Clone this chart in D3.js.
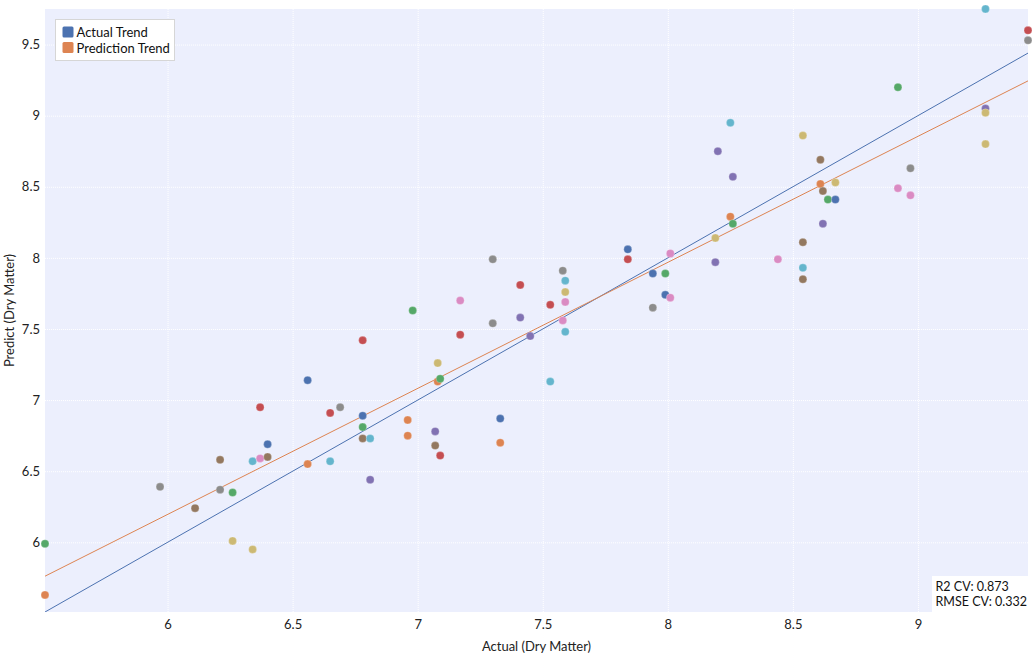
<!DOCTYPE html>
<html>
<head>
<meta charset="utf-8">
<script src="https://cdn.jsdelivr.net/npm/d3@7"></script>
<style>
  body { margin: 0; background: #fff; }
  text { font-family: Lato, "Open Sans", sans-serif; }
</style>
</head>
<body>
<div id="chart"></div>
<script>
// measured dry matter (x) and model prediction (y), one entry per sample
var actual = [
  5.51, 5.51, 5.97, 6.11, 6.21, 6.21, 6.26, 6.26, 6.34, 6.34,
  6.37, 6.37, 6.40, 6.40, 6.56, 6.56, 6.65, 6.65, 6.69, 6.78,
  6.78, 6.78, 6.78, 6.81, 6.81, 6.96, 6.96, 6.98, 7.07, 7.07,
  7.08, 7.08, 7.09, 7.09, 7.17, 7.17, 7.30, 7.30, 7.33, 7.33,
  7.41, 7.41, 7.45, 7.53, 7.53, 7.58, 7.58, 7.59, 7.59, 7.59,
  7.59, 7.84, 7.84, 7.94, 7.94, 7.99, 7.99, 8.01, 8.01, 8.19,
  8.19, 8.20, 8.25, 8.25, 8.26, 8.26, 8.44, 8.54, 8.54, 8.54,
  8.54, 8.61, 8.61, 8.62, 8.62, 8.64, 8.67, 8.67, 8.92, 8.92,
  8.97, 8.97, 9.27, 9.27, 9.27, 9.27, 9.44, 9.44
];
var predicted = [
  5.99, 5.63, 6.39, 6.24, 6.58, 6.37, 6.35, 6.01, 5.95, 6.57,
  6.59, 6.95, 6.69, 6.60, 7.14, 6.55, 6.57, 6.91, 6.95, 7.42,
  6.89, 6.81, 6.73, 6.73, 6.44, 6.86, 6.75, 7.63, 6.78, 6.68,
  7.26, 7.13, 7.15, 6.61, 7.70, 7.46, 7.99, 7.54, 6.87, 6.70,
  7.81, 7.58, 7.45, 7.67, 7.13, 7.91, 7.56, 7.84, 7.76, 7.69,
  7.48, 8.06, 7.99, 7.89, 7.65, 7.74, 7.89, 8.03, 7.72, 8.14,
  7.97, 8.75, 8.29, 8.95, 8.24, 8.57, 7.99, 8.86, 8.11, 7.93,
  7.85, 8.69, 8.52, 8.47, 8.24, 8.41, 8.53, 8.41, 9.20, 8.49,
  8.63, 8.44, 9.75, 9.05, 9.02, 8.80, 9.60, 9.53
];
// sample group (0-9) for the point colour
var group = [
  2, 1, 7, 5, 5, 7, 2, 8, 8, 9,
  6, 3, 0, 5, 0, 1, 9, 3, 7, 3,
  0, 2, 5, 9, 4, 1, 1, 2, 4, 5,
  8, 1, 2, 3, 6, 3, 7, 7, 0, 1,
  3, 4, 4, 3, 9, 7, 6, 9, 8, 6,
  9, 0, 3, 0, 7, 0, 2, 6, 6, 8,
  4, 4, 1, 9, 2, 4, 6, 8, 5, 9,
  5, 5, 1, 5, 4, 2, 8, 0, 2, 6,
  7, 6, 9, 4, 8, 8, 3, 7
];
var xTicks = [6, 6.5, 7, 7.5, 8, 8.5, 9];
var yTicks = [6, 6.5, 7, 7.5, 8, 8.5, 9, 9.5];
var legendLabels = ["Actual Trend", "Prediction Trend"];
var scoreLabels = ["R2 CV: 0.873", "RMSE CV: 0.332"];

var palette = ["#4C72B0", "#DD8452", "#55A868", "#C44E52", "#8172B3",
               "#937860", "#DA8BC3", "#8C8C8C", "#CCB974", "#64B5CD"];

var W = 1033, H = 658;
var m = { left: 45, top: 9, right: 5, bottom: 46 };

var points = actual.map(function(a, i) {
  return { x: a, y: predicted[i], g: group[i] };
});

var x = d3.scaleLinear()
    .domain(d3.extent(actual))
    .range([m.left, W - m.right]);
var y = d3.scaleLinear()
    .domain([d3.min(actual.concat(predicted)), d3.max(predicted)])
    .range([H - m.bottom, m.top]);
var color = d3.scaleOrdinal().domain(d3.range(10)).range(palette);

// least squares fit for the prediction trend
var mx = d3.mean(actual), my = d3.mean(predicted);
var slope = d3.sum(points, function(d) { return (d.x - mx) * (d.y - my); }) /
            d3.sum(points, function(d) { return (d.x - mx) * (d.x - mx); });
var icpt = my - slope * mx;

var svg = d3.select("#chart").append("svg")
    .attr("width", W)
    .attr("height", H);

svg.append("defs").append("clipPath").attr("id", "plot")
  .append("rect")
    .attr("x", m.left).attr("y", m.top)
    .attr("width", W - m.left - m.right)
    .attr("height", H - m.top - m.bottom);

svg.append("rect")
    .attr("x", m.left).attr("y", m.top)
    .attr("width", W - m.left - m.right)
    .attr("height", H - m.top - m.bottom)
    .attr("fill", "#ECEFFD");

var xAxis = svg.append("g")
    .attr("transform", "translate(0," + (H - m.bottom) + ")")
    .call(d3.axisBottom(x).tickValues(xTicks).tickFormat(d3.format("~f"))
      .tickSize(-(H - m.top - m.bottom)).tickPadding(8));
var yAxis = svg.append("g")
    .attr("transform", "translate(" + m.left + ",0)")
    .call(d3.axisLeft(y).tickValues(yTicks).tickFormat(d3.format("~f"))
      .tickSize(-(W - m.left - m.right)).tickPadding(5));

[xAxis, yAxis].forEach(function(ax) {
  ax.select(".domain").remove();
  ax.selectAll(".tick line").attr("stroke", "#fff").attr("stroke-width", 1)
    .attr("stroke-dasharray", "1,1");
  ax.selectAll(".tick text").attr("fill", "#222")
    .style("font-size", "13px").style("font-family", "Lato, sans-serif");
});

var lineG = svg.append("g").attr("clip-path", "url(#plot)");
var xd = x.domain();
lineG.append("line")
    .attr("x1", x(xd[0])).attr("y1", y(xd[0]))
    .attr("x2", x(xd[1])).attr("y2", y(xd[1]))
    .attr("stroke", palette[0]).attr("stroke-width", 1);
lineG.append("line")
    .attr("x1", x(xd[0])).attr("y1", y(icpt + slope * xd[0]))
    .attr("x2", x(xd[1])).attr("y2", y(icpt + slope * xd[1]))
    .attr("stroke", palette[1]).attr("stroke-width", 1);

svg.append("g").selectAll("circle")
    .data(points)
  .enter().append("circle")
    .attr("cx", function(d) { return x(d.x); })
    .attr("cy", function(d) { return y(d.y); })
    .attr("r", 4)
    .attr("fill", function(d) { return color(d.g); })
    .attr("stroke", "#fff")
    .attr("stroke-opacity", 0.4)
    .attr("stroke-width", 0.6);

// legend
var lg = svg.append("g").attr("transform", "translate(55.5,19.5)");
lg.append("rect")
    .attr("width", 119).attr("height", 41)
    .attr("fill", "#fff").attr("stroke", "#d6d6d6");
legendLabels.forEach(function(l, i) {
  lg.append("rect")
      .attr("x", 7).attr("y", 7 + i * 15.5)
      .attr("width", 11).attr("height", 11).attr("rx", 1.5)
      .attr("fill", palette[i]);
  lg.append("text")
      .attr("x", 21).attr("y", 17.5 + i * 15.5)
      .style("font-size", "13px").attr("fill", "#111")
      .text(l);
});

// cross validation scores
var sg = svg.append("g");
sg.append("rect")
    .attr("x", 932).attr("y", 576)
    .attr("width", W - 932).attr("height", H - m.bottom - 576)
    .attr("fill", "#fff");
scoreLabels.forEach(function(s, i) {
  sg.append("text")
      .attr("x", 935.5).attr("y", 590.5 + i * 15.5)
      .style("font-size", "12.5px").attr("fill", "#111")
      .text(s);
});

svg.append("text")
    .attr("x", (m.left + W - m.right) / 2).attr("y", H - 7)
    .attr("text-anchor", "middle")
    .style("font-size", "13px").attr("fill", "#222")
    .text("Actual (Dry Matter)");
svg.append("text")
    .attr("transform", "translate(14," + ((m.top + H - m.bottom) / 2) + ") rotate(-90)")
    .attr("text-anchor", "middle")
    .style("font-size", "13px").attr("fill", "#222")
    .text("Predict (Dry Matter)");
</script>
</body>
</html>
